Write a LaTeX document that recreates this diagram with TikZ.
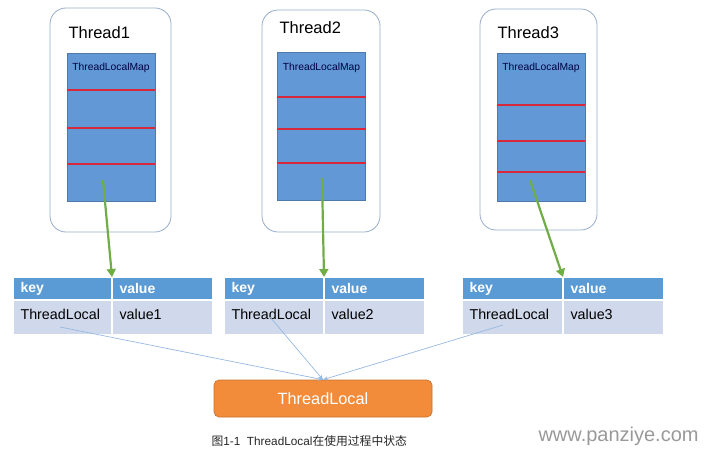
\documentclass[tikz,border=0pt]{standalone}
\usepackage{fontspec}
\setmainfont{Liberation Sans}
\newfontfamily\cjk{Noto Sans CJK SC}
\usetikzlibrary{arrows.meta}
\definecolor{mapblue}{RGB}{98,152,214}
\definecolor{headblue}{RGB}{91,155,213}
\definecolor{rowblue}{RGB}{208,216,235}
\definecolor{framegray}{RGB}{150,172,200}
\definecolor{tlorange}{RGB}{242,140,58}
\definecolor{arrowgreen}{RGB}{112,173,71}
\definecolor{redline}{RGB}{215,40,60}
\definecolor{linkblue}{RGB}{150,185,225}
\begin{document}
\begin{tikzpicture}[x=1pt,y=-1pt,
  threadbox/.style={draw=framegray, line width=0.8pt, rounded corners=16pt, inner sep=0pt},
  mapbox/.style={fill=mapblue, draw=mapblue!80!black, line width=0.3pt, inner sep=0pt, minimum width=88pt, minimum height=148pt},
  headcell/.style={fill=headblue, draw=white, line width=1pt, inner sep=0pt, minimum height=22pt},
  rowcell/.style={fill=rowblue, draw=white, line width=1pt, inner sep=0pt, minimum height=34pt},
  headtext/.style={anchor=west, text=white, font=\bfseries\fontsize{14}{14}\selectfont},
  rowtext/.style={anchor=west, font=\fontsize{14.3}{15}\selectfont},
  greenarrow/.style={draw=arrowgreen, line width=2.2pt, -{Triangle[length=8pt,width=9pt]}},
  link/.style={draw=linkblue, line width=0.7pt, -{Stealth[length=5pt,width=4pt]}},
  sepline/.style={draw=redline, line width=1.2pt}]
\useasboundingbox (0,0) rectangle (711,457);
% threads
\node[threadbox, minimum width=121pt, minimum height=224pt] (t1) at (110.5,120) {};
\node[threadbox, minimum width=118pt, minimum height=222pt] (t2) at (321,121) {};
\node[threadbox, minimum width=117pt, minimum height=221pt] (t3) at (538.5,119.5) {};
\node[anchor=west, font=\fontsize{16.5}{17}\selectfont] at (65,33) {Thread1};
\node[anchor=west, font=\fontsize{16.5}{17}\selectfont] at (276,28) {Thread2};
\node[anchor=west, font=\fontsize{16.5}{17}\selectfont] at (494,33) {Thread3};
% maps
\node[mapbox] (m1) at (111,127.5) {};
\node[mapbox] (m2) at (321.5,126.5) {};
\node[mapbox] (m3) at (541,127.5) {};
\foreach \i/\x in {1/111, 2/321.5, 3/541}
  \node[text=black!75!blue, font=\fontsize{10.3}{11}\selectfont] at (\x,68) {ThreadLocalMap};
\foreach \i/\y in {1/90, 1/128, 1/164, 2/97, 2/129, 2/163, 3/105, 3/141, 3/172}
  \draw[sepline] (m\i.west |- 0,\y) -- (m\i.east |- 0,\y);
% tables
\foreach \i/\x/\w/\v in {1/13/98/value1, 2/224/99/value2, 3/462/100/value3}{
  \node[headcell, minimum width=\w pt, anchor=north west] (k\i) at (\x,277) {};
  \node[headcell, minimum width=100pt, anchor=north west] (v\i) at (k\i.north east) {};
  \node[rowcell, minimum width=\w pt, anchor=north west] (tl\i) at (k\i.south west) {};
  \node[rowcell, minimum width=100pt, anchor=north west] (val\i) at (k\i.south east) {};
  \node[headtext] at ([xshift=4pt]k\i.west) {key};
  \node[headtext] at ([xshift=4pt]v\i.west) {value};
  \node[rowtext] at ([xshift=4pt,yshift=3.5pt]tl\i.west) {ThreadLocal};
  \node[rowtext] at ([xshift=4pt,yshift=3.5pt]val\i.west) {\v};
}
% green arrows
\coordinate (s1) at (103,180);
\coordinate (s2) at (322,178);
\coordinate (s3) at (530,180);
\draw[greenarrow] (s1) -- (k1.north east -| 112,0);
\draw[greenarrow] (s2) -- (k2.north east);
\draw[greenarrow] (s3) -- (v3.north west);
% ThreadLocal
\node[fill=tlorange, draw=tlorange!80!black, line width=0.6pt, rounded corners=5pt, minimum width=218pt, minimum height=37pt, text=white, font=\fontsize{16.3}{17}\selectfont] (tl) at (323,398.5) {ThreadLocal};
\coordinate (l1) at (60,327);
\coordinate (l2) at (270,317);
\coordinate (l3) at (503,325);
\foreach \i in {1,2,3}
  \draw[link] (l\i) -- (tl.north);
% caption
\node[anchor=west, font=\fontsize{11.8}{12}\selectfont, text=black!85] (cap) at (208,441) {{\cjk 图}1-1\ \ ThreadLocal{\cjk 在使用过程中状态}};
\node[anchor=west, text=black!40, font=\fontsize{20}{20}\selectfont] (wm) at (535,436) {www.panziye.com};
\end{tikzpicture}
\end{document}
